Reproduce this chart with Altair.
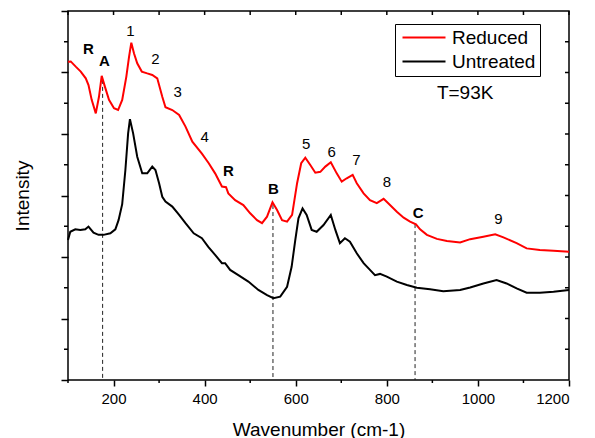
import altair as alt
import pandas as pd

# ---------------- data ----------------
red_wn = [100, 106, 117, 128, 139, 145, 152, 161, 168, 174, 181, 190, 201, 210, 219,
          228, 234, 239, 245, 252, 262, 274, 285, 296, 307, 314, 329, 344, 358, 373,
          394, 409, 423, 438, 447, 452, 467, 485, 500, 515, 526, 537, 549, 559, 570,
          581, 592, 603, 612, 621, 632, 643, 654, 665, 677, 690, 701, 712, 725, 734,
          749, 763, 778, 793, 807, 822, 837, 851, 864, 873, 888, 910, 932, 961, 983,
          1012, 1038, 1056, 1085, 1107, 1136, 1166, 1200]
red_int = [10.35, 10.36, 10.19, 10.03, 9.81, 9.59, 9.11, 8.67, 9.21, 9.89, 9.54, 9.11, 8.84, 8.78, 9.11,
           9.86, 10.51, 10.97, 10.62, 10.30, 10.03, 9.97, 9.92, 9.81, 9.21, 8.87, 8.78, 8.62, 8.24, 7.75,
           7.36, 7.05, 6.72, 6.29, 6.27, 6.07, 5.85, 5.69, 5.42, 5.20, 5.10, 5.31, 5.78, 5.53, 5.20,
           5.15, 5.37, 6.40, 7.05, 7.23, 6.99, 6.74, 6.77, 6.94, 7.08, 6.72, 6.45, 6.56, 6.67, 6.40,
           6.07, 5.85, 5.75, 5.89, 5.69, 5.47, 5.28, 5.15, 5.06, 4.90, 4.72, 4.59, 4.52, 4.47, 4.58,
           4.66, 4.74, 4.64, 4.45, 4.28, 4.23, 4.20, 4.17]

black_wn = [100, 105, 116, 127, 138, 145, 156, 167, 178, 193, 204, 211, 219, 226, 232,
            236, 243, 252, 263, 274, 285, 292, 300, 307, 314, 329, 344, 358, 376, 394,
            408, 423, 438, 445, 456, 474, 496, 518, 537, 551, 566, 581, 591, 599, 606,
            615, 624, 635, 646, 661, 677, 687, 697, 708, 719, 734, 749, 763, 774, 785,
            800, 822, 844, 866, 895, 924, 961, 983, 1012, 1041, 1063, 1085, 1107, 1136,
            1166, 1200]
black_int = [4.55, 4.82, 4.90, 4.88, 4.90, 4.99, 4.79, 4.72, 4.72, 4.77, 4.90, 5.20, 5.72, 6.83, 8.02,
             8.48, 8.02, 7.26, 6.72, 6.72, 6.94, 6.83, 6.40, 5.96, 5.80, 5.64, 5.37, 5.10, 4.77, 4.61,
             4.33, 4.07, 3.80, 3.80, 3.58, 3.41, 3.20, 2.93, 2.76, 2.66, 2.71, 3.03, 3.68, 4.55, 5.26,
             5.58, 5.37, 4.88, 4.82, 5.04, 5.37, 4.88, 4.45, 4.61, 4.50, 4.12, 3.80, 3.58, 3.41, 3.45,
             3.36, 3.20, 3.09, 3.00, 2.95, 2.89, 2.93, 3.01, 3.14, 3.25, 3.14, 2.98, 2.84, 2.84,
             2.87, 2.93]

series_names = ["Reduced", "Untreated"]
series_colors = ["#ff0000", "#000000"]

num_labels = ["1", "2", "3", "4", "5", "6", "7", "8", "9"]
num_wn = [237, 292, 341, 400, 623, 679, 733, 800, 1045]
num_int = [11.34, 10.43, 9.36, 7.89, 7.67, 7.42, 7.15, 6.45, 5.23]

bold_labels = ["R", "A", "R", "B", "C"]
bold_wn = [145, 180, 452, 551, 869]
bold_int = [10.77, 10.36, 6.80, 6.22, 5.44]

note_labels = ["T=93K"]
note_wn = [972]
note_int = [9.33]

dash_wn = [176, 550, 862]
dash_top = [9.76, 5.69, 5.07]

x_major = [200, 400, 600, 800, 1000, 1200]
x_minor = [100, 300, 500, 700, 900, 1100]
x_all = [100, 200, 300, 400, 500, 600, 700, 800, 900, 1000, 1100, 1200]
y_major = [0, 2, 4, 6, 8, 10, 12]
y_minor = [1, 3, 5, 7, 9, 11]
y_inner = [1, 2, 3, 4, 5, 6, 7, 8, 9, 10, 11]

# ---------------- tables ----------------
spectra = pd.concat([
    pd.DataFrame({"x": red_wn, "y": red_int, "series": series_names[0]}),
    pd.DataFrame({"x": black_wn, "y": black_int, "series": series_names[1]}),
])
nums = pd.DataFrame({"x": num_wn, "y": num_int, "t": num_labels})
bolds = pd.DataFrame({"x": bold_wn, "y": bold_int, "t": bold_labels})
notes = pd.DataFrame({"x": note_wn, "y": note_int, "t": note_labels})
dashes = pd.DataFrame({"x": dash_wn, "y": dash_top, "y0": [0] * len(dash_wn)})

W, H = 501, 369
FONT = "Liberation Sans"

xscale = alt.Scale(domain=[100, 1200], nice=False, zero=False)
yscale = alt.Scale(domain=[0, 12], nice=False, zero=False)

xaxis = alt.Axis(values=x_major, format="d", tickSize=6, tickWidth=1.5, tickColor="black",
                 labelFontSize=15, labelPadding=5, labelColor="black", labelFont=FONT,
                 title="Wavenumber (cm-1)", titleFontSize=19, titleFontWeight="normal",
                 titleColor="black", titleFont=FONT, titlePadding=14,
                 domain=False, grid=False)
yaxis = alt.Axis(values=y_major, tickSize=7, tickWidth=1.5, tickColor="black",
                 labels=False, title="Intensity", titleFontSize=19, titleFontWeight="normal",
                 titleColor="black", titleFont=FONT, titlePadding=28,
                 domain=False, grid=False)

X = alt.X("x:Q", scale=xscale, axis=xaxis)
Y = alt.Y("y:Q", scale=yscale, axis=yaxis)

lines = alt.Chart(spectra).mark_line(strokeWidth=2).encode(
    x=X, y=Y,
    color=alt.Color("series:N",
                    scale=alt.Scale(domain=series_names, range=series_colors),
                    legend=alt.Legend(title=None, orient="none", legendX=327, legendY=13,
                                      symbolType="M-4.3,0H4.3", symbolSize=100,
                                      symbolStrokeWidth=2, symbolFillColor="transparent",
                                      symbolOffset=15.5, labelOffset=18.5,
                                      labelFontSize=19, labelFont=FONT, labelColor="black",
                                      padding=4, rowPadding=4,
                                      strokeColor="black")),
)

dash_layer = alt.Chart(dashes).mark_rule(strokeDash=[4, 3], color="#222222", strokeWidth=1).encode(
    x=X, y=Y, y2="y0:Q")

num_layer = alt.Chart(nums).mark_text(font=FONT, fontSize=15, color="black").encode(
    x=X, y=Y, text="t:N")
bold_layer = alt.Chart(bolds).mark_text(font=FONT, fontSize=15, fontWeight="bold", color="black").encode(
    x=X, y=Y, text="t:N")
note_layer = alt.Chart(notes).mark_text(font=FONT, fontSize=19, color="black").encode(
    x=X, y=Y, text="t:N")

# minor / inner ticks
bx = pd.DataFrame({"x": x_minor})
tx = pd.DataFrame({"x": x_all})
ly = pd.DataFrame({"y": y_minor})
ry = pd.DataFrame({"y": y_inner})
tick_style = dict(color="black", strokeWidth=1.5)
bottom_minor = alt.Chart(bx).mark_rule(**tick_style).encode(x=X, y=alt.value(H), y2=alt.value(H + 3))
top_ticks = alt.Chart(tx).mark_rule(**tick_style).encode(x=X, y=alt.value(0), y2=alt.value(4))
left_minor = alt.Chart(ly).mark_rule(**tick_style).encode(y=Y, x=alt.value(-4), x2=alt.value(0))
right_ticks = alt.Chart(ry).mark_rule(**tick_style).encode(y=Y, x=alt.value(W - 4), x2=alt.value(W))

chart = alt.layer(
    dash_layer, lines, num_layer, bold_layer, note_layer,
    bottom_minor, top_ticks, left_minor, right_ticks,
).properties(
    width=W, height=H,
    autosize=alt.AutoSizeParams(type="none"),
    padding={"left": 60, "top": 3, "right": 18, "bottom": 62},
    background="white",
).configure_view(
    stroke="black", strokeWidth=1.5
).configure_text(font=FONT)

chart.save("out.html", embed_options={"renderer": "svg", "actions": False})
